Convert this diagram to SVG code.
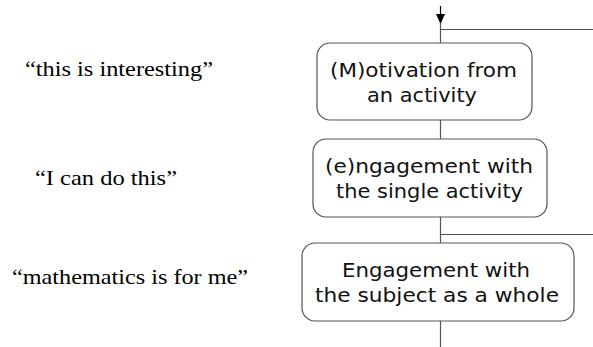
<svg xmlns="http://www.w3.org/2000/svg" width="593" height="347" viewBox="0 0 593 347">
<style>
.box{fill:#fff;stroke:#555;stroke-width:1.2}
.bt{font-family:"DejaVu Sans",Verdana,sans-serif;font-size:20px;fill:#111}
.qt{font-family:"Liberation Serif","Times New Roman",serif;font-size:21px;fill:#000}
.ln{stroke:#555;stroke-width:1.2;fill:none}
</style>
<defs>
<marker id="ah" markerWidth="10" markerHeight="10" refX="10" refY="5" orient="auto" markerUnits="userSpaceOnUse" viewBox="0 0 10 10">
<path d="M0,0.5 L10,5 L0,9.5 Z" fill="#000"/>
</marker>
</defs>
<g id="connectors">
<line class="ln" x1="440.5" y1="6" x2="440.5" y2="24" marker-end="url(#ah)" style="stroke:#000"/>
<line class="ln" x1="440.5" y1="23" x2="440.5" y2="43"/>
<line class="ln" x1="440.5" y1="29.5" x2="593" y2="29.5"/>
<line class="ln" x1="440.5" y1="120" x2="440.5" y2="139"/>
<line class="ln" x1="440.5" y1="217" x2="440.5" y2="243"/>
<line class="ln" x1="440.5" y1="234.5" x2="593" y2="234.5"/>
<line class="ln" x1="440.5" y1="321" x2="440.5" y2="347"/>
</g>
<g id="n1">
<rect class="box" x="317" y="43" width="215" height="77" rx="13"/>
<text class="bt" x="330" y="77" textLength="187" lengthAdjust="spacingAndGlyphs">(M)otivation from</text>
<text class="bt" x="367" y="102" textLength="110" lengthAdjust="spacingAndGlyphs">an activity</text>
</g>
<g id="n2">
<rect class="box" x="313" y="139" width="234" height="78" rx="13"/>
<text class="bt" x="325" y="173" textLength="208" lengthAdjust="spacingAndGlyphs">(e)ngagement with</text>
<text class="bt" x="336" y="198" textLength="187" lengthAdjust="spacingAndGlyphs">the single activity</text>
</g>
<g id="n3">
<rect class="box" x="302" y="243" width="272" height="78" rx="13"/>
<text class="bt" x="342" y="277" textLength="188" lengthAdjust="spacingAndGlyphs">Engagement with</text>
<text class="bt" x="315" y="302" textLength="244" lengthAdjust="spacingAndGlyphs">the subject as a whole</text>
</g>
<g id="q1"><text class="qt" x="25" y="76" textLength="188" lengthAdjust="spacingAndGlyphs">“this is interesting”</text></g>
<g id="q2"><text class="qt" x="35" y="185" textLength="142" lengthAdjust="spacingAndGlyphs">“I can do this”</text></g>
<g id="q3"><text class="qt" x="12" y="284" textLength="236" lengthAdjust="spacingAndGlyphs">“mathematics is for me”</text></g>
</svg>
